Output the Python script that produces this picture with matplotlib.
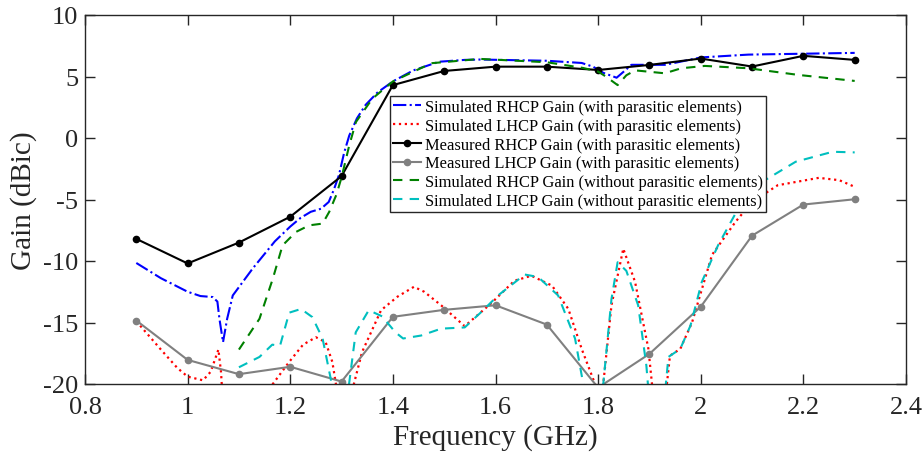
import matplotlib
matplotlib.use("Agg")
import matplotlib.pyplot as plt

plt.rcParams['font.family'] = ['Liberation Serif', 'DejaVu Serif']
plt.rcParams['axes.unicode_minus'] = False

# Measured data (every 0.1 GHz)
meas_freq = [0.9, 1.0, 1.1, 1.2, 1.3, 1.4, 1.5, 1.6, 1.7, 1.8, 1.9, 2.0, 2.1, 2.2, 2.3]
meas_rhcp = [-8.2, -10.2, -8.5, -6.4, -3.1, 4.3, 5.45, 5.8, 5.8, 5.53, 5.94, 6.46, 5.81, 6.68, 6.35]
meas_lhcp = [-14.84, -18.04, -19.2, -18.6, -19.8, -14.54, -13.97, -13.6, -15.17, -20.3, -17.55, -13.72, -7.94, -5.41, -4.98]

# Simulated RHCP (with parasitic elements)
sim_rhcp_w_f = [0.9, 0.948, 1.0, 1.025, 1.049, 1.058, 1.062, 1.069, 1.077, 1.088, 1.127, 1.17, 1.2, 1.22,
                1.24, 1.26, 1.275, 1.285, 1.295, 1.305, 1.315, 1.33, 1.347, 1.37, 1.40, 1.44, 1.49, 1.54,
                1.57, 1.70, 1.768, 1.79, 1.81, 1.836, 1.85, 1.865, 1.93, 1.96, 2.0, 2.093, 2.197, 2.3]
sim_rhcp_w = [-10.16, -11.4, -12.5, -12.85, -12.93, -13.3, -14.7, -16.6, -14.7, -12.8, -10.6, -8.4, -7.2, -6.5,
              -6.0, -5.75, -5.2, -4.2, -3.0, -1.2, 0.2, 1.6, 2.7, 3.7, 4.6, 5.5, 6.2, 6.35,
              6.38, 6.28, 6.1, 5.8, 5.3, 4.9, 5.4, 5.95, 5.95, 6.2, 6.55, 6.78, 6.85, 6.92]

# Simulated LHCP (with parasitic elements)
sim_lhcp_w_f = [0.9, 0.95, 0.98, 1.0, 1.03, 1.045, 1.055, 1.06, 1.065, 1.068, 1.11, 1.166, 1.198, 1.225,
                1.25, 1.269, 1.282, 1.289, 1.305, 1.324, 1.34, 1.377, 1.409, 1.441, 1.461, 1.494, 1.54,
                1.59, 1.637, 1.67, 1.71, 1.742, 1.768, 1.794, 1.802, 1.81, 1.826, 1.849, 1.872, 1.898,
                1.905, 1.92, 1.934, 1.94, 1.96, 1.983, 2.022, 2.068, 2.10, 2.15, 2.23, 2.27, 2.3]
sim_lhcp_w = [-14.9, -17.3, -18.7, -19.4, -19.7, -19.0, -17.8, -17.2, -19.0, -21.0, -25.0, -20.0, -18.2, -16.8,
              -16.2, -16.6, -18.2, -20.0, -22.0, -20.0, -17.4, -14.0, -12.9, -12.1, -12.5, -13.6, -15.3,
              -13.5, -11.6, -11.2, -12.0, -13.9, -17.15, -20.0, -21.0, -20.0, -13.6, -9.0, -11.7, -17.15,
              -20.0, -22.0, -20.0, -17.7, -17.15, -15.0, -9.5, -6.8, -5.2, -3.84, -3.24, -3.43, -3.97]

# Simulated RHCP (without parasitic elements)
sim_rhcp_wo_f = [1.10, 1.14, 1.166, 1.185, 1.211, 1.237, 1.263, 1.276, 1.29, 1.30, 1.315, 1.328, 1.36, 1.40,
                 1.475, 1.57, 1.70, 1.77, 1.80, 1.815, 1.838, 1.855, 1.872, 1.93, 1.962, 2.008, 2.093,
                 2.19, 2.3]
sim_rhcp_wo = [-17.2, -14.7, -11.44, -8.73, -7.64, -7.1, -6.96, -6.0, -4.6, -3.2, -0.6, 1.3, 3.2, 4.6,
               6.08, 6.43, 6.16, 5.7, 5.4, 5.0, 4.3, 5.1, 5.5, 5.26, 5.67, 5.86, 5.67,
               5.13, 4.64]

# Simulated LHCP (without parasitic elements)
sim_lhcp_wo_f = [1.10, 1.14, 1.165, 1.18, 1.198, 1.221, 1.243, 1.263, 1.279, 1.285, 1.30, 1.3146, 1.3276,
                 1.353, 1.379, 1.405, 1.42, 1.455, 1.494, 1.54, 1.572, 1.605, 1.657, 1.683, 1.722, 1.755,
                 1.771, 1.79, 1.81, 1.826, 1.838, 1.855, 1.878, 1.894, 1.897, 1.915, 1.932, 1.937, 1.96,
                 1.98, 2.002, 2.034, 2.073, 2.12, 2.185, 2.257, 2.3]
sim_lhcp_wo = [-18.64, -17.8, -16.8, -16.9, -14.2, -13.9, -14.56, -16.3, -19.6, -21.5, -22.0, -20.0, -15.8,
               -14.0, -14.5, -15.8, -16.3, -16.06, -15.5, -15.4, -14.16, -12.8, -11.1, -11.3, -12.8, -16.3,
               -20.0, -22.0, -20.0, -13.1, -10.1, -10.8, -13.6, -18.5, -20.0, -22.0, -20.0, -17.8, -17.15,
               -15.25, -11.7, -8.7, -5.74, -3.56, -1.93, -1.12, -1.17]

labels = [
    "Simulated RHCP Gain (with parasitic elements)",
    "Simulated LHCP Gain (with parasitic elements)",
    "Measured RHCP Gain (with parasitic elements)",
    "Measured LHCP Gain (with parasitic elements)",
    "Simulated RHCP Gain (without parasitic elements)",
    "Simulated LHCP Gain (without parasitic elements)",
]

fig = plt.figure(figsize=(9.22, 4.60), dpi=100)
ax = fig.add_axes([85/922, 1-385/460, 821/922, 369/460])

ax.plot(sim_rhcp_w_f, sim_rhcp_w, color='blue', linestyle='-.', lw=1.5, label=labels[0])
ax.plot(sim_lhcp_w_f, sim_lhcp_w, color='red', linestyle=':', lw=1.6, label=labels[1])
ax.plot(meas_freq, meas_rhcp, color='black', linestyle='-', lw=1.5, marker='o', ms=4.5, label=labels[2])
ax.plot(meas_freq, meas_lhcp, color='gray', linestyle='-', lw=1.5, marker='o', ms=4.5, label=labels[3])
ax.plot(sim_rhcp_wo_f, sim_rhcp_wo, color='green', linestyle=(0, (4.5, 3.5)), lw=1.5, label=labels[4])
ax.plot(sim_lhcp_wo_f, sim_lhcp_wo, color=(0.0, 0.75, 0.75), linestyle=(0, (4.5, 3.5)), lw=1.5, label=labels[5])

ax.set_xlim(0.8, 2.4)
ax.set_ylim(-20, 10)
ax.set_xticks([0.8, 1.0, 1.2, 1.4, 1.6, 1.8, 2.0, 2.2, 2.4])
ax.set_xticklabels(['0.8', '1', '1.2', '1.4', '1.6', '1.8', '2', '2.2', '2.4'])
ax.set_yticks([-20, -15, -10, -5, 0, 5, 10])
ax.tick_params(direction='in', top=True, right=True, length=7, width=1, labelsize=19, colors='#262626')
ax.tick_params(axis='x', pad=9)
ax.tick_params(axis='y', pad=5)
for s in ax.spines.values():
    s.set_linewidth(1.0)
    s.set_color('#262626')
ax.set_xlabel('Frequency (GHz)', fontsize=21, color='#262626', labelpad=3)
ax.set_ylabel('Gain (dBic)', fontsize=21, color='#262626', labelpad=4)

leg = ax.legend(loc='upper left', bbox_to_anchor=(0.3715, 0.7813), borderaxespad=0,
                fontsize=11.9, handlelength=1.7, handletextpad=0.2, labelspacing=0.17,
                borderpad=0.2, fancybox=False, framealpha=1, edgecolor='#262626')
leg.get_frame().set_linewidth(1.0)

fig.savefig('out.png', dpi=100)
